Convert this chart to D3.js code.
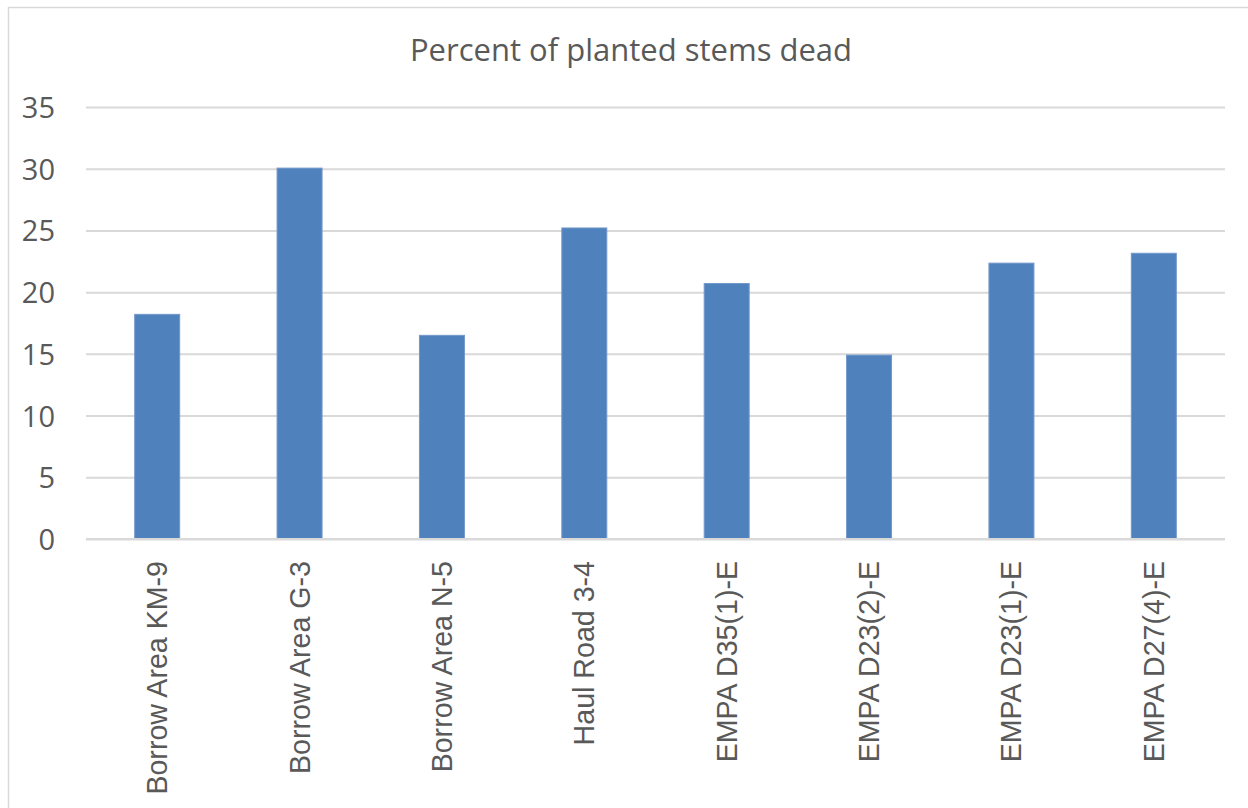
<!DOCTYPE html>
<html>
<head>
<meta charset="utf-8">
<script src="https://cdn.jsdelivr.net/npm/d3@7"></script>
<style>
  html, body { margin: 0; padding: 0; background: #fff; }
  svg { display: block; }
</style>
</head>
<body>
<svg id="chart" width="1248" height="808"></svg>
<script>
// Sites and their share of planted stems found dead (%)
const sites = [
  "Borrow Area KM-9",
  "Borrow Area G-3",
  "Borrow Area N-5",
  "Haul Road 3-4",
  "EMPA D35(1)-E",
  "EMPA D23(2)-E",
  "EMPA D23(1)-E",
  "EMPA D27(4)-E"
];
const percentDead = [18.2, 30.05, 16.5, 25.2, 20.7, 14.9, 22.35, 23.15];
const yTicks = [0, 5, 10, 15, 20, 25, 30, 35];
const chartTitle = "Percent of planted stems dead";

const svg = d3.select("#chart");
const W = 1248, H = 808;
const plot = { left: 86, right: 1225, top: 107, bottom: 539 };

// chart frame
svg.append("rect")
  .attr("x", 8.5).attr("y", 7.5)
  .attr("width", W + 20).attr("height", H + 20)
  .attr("fill", "#fff")
  .attr("stroke", "#d9d9d9")
  .attr("stroke-width", 1.5);

const x = d3.scaleBand()
  .domain(sites)
  .range([plot.left, plot.right])
  .paddingInner(0.684)
  .paddingOuter(0.342);

const y = d3.scaleLinear()
  .domain([0, 35])
  .range([plot.bottom, plot.top]);

// horizontal gridlines
const yAxis = d3.axisLeft(y)
  .tickValues(yTicks)
  .tickSize(-(plot.right - plot.left))
  .tickPadding(31)
  .tickFormat(d3.format("d"));

const gy = svg.append("g")
  .attr("transform", `translate(${plot.left},0)`)
  .call(yAxis);
gy.select(".domain").remove();
gy.selectAll(".tick line")
  .attr("stroke", "#d9d9d9")
  .attr("stroke-width", 2);
gy.selectAll(".tick text")
  .attr("fill", "#595959")
  .attr("font-family", "'Open Sans', sans-serif")
  .attr("font-size", 29)
  .attr("dy", "0.36em");

// bars
svg.append("g")
  .selectAll("rect")
  .data(sites.map((s, i) => ({ site: s, value: percentDead[i] })))
  .join("rect")
  .attr("x", d => x(d.site))
  .attr("y", d => y(d.value))
  .attr("width", x.bandwidth())
  .attr("height", d => y(0) - y(d.value))
  .attr("fill", "#4f81bd")
  .attr("stroke", "#7398cb")
  .attr("stroke-width", 1);

// category labels, rotated
const xAxis = d3.axisBottom(x).tickSize(0).tickPadding(0);
const gx = svg.append("g")
  .attr("transform", `translate(0,${plot.bottom})`)
  .call(xAxis);
gx.select(".domain")
  .attr("stroke", "#d9d9d9")
  .attr("stroke-width", 2)
  .attr("d", `M${plot.left},0H${plot.right}`);
gx.selectAll(".tick text")
  .attr("fill", "#595959")
  .attr("font-family", "'Liberation Sans', Arial, sans-serif")
  .attr("font-size", 28.6)
  .attr("text-anchor", "end")
  .attr("transform", "rotate(-90)")
  .attr("x", -22)
  .attr("y", 0)
  .attr("dy", "0.35em");

// title
svg.append("text")
  .attr("x", 631)
  .attr("y", 61)
  .attr("text-anchor", "middle")
  .attr("fill", "#595959")
  .attr("font-family", "'Open Sans', sans-serif")
  .attr("font-size", 31)
  .text(chartTitle);
</script>
</body>
</html>
